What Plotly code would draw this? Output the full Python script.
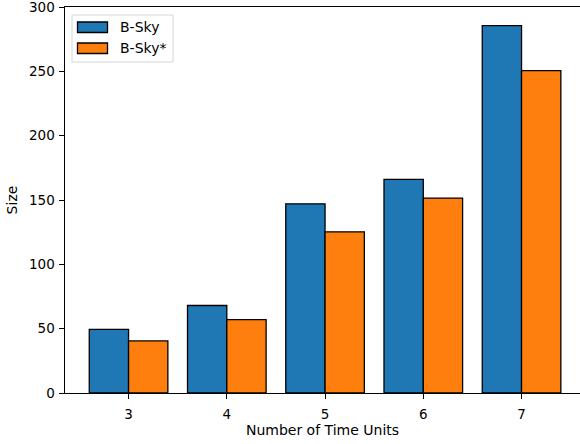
import plotly.graph_objects as go

categories = [3, 4, 5, 6, 7]
bsky = [49.5, 68.0, 147.0, 166.0, 285.6]
bsky_star = [40.5, 57.0, 125.3, 151.5, 250.6]
series_names = ["B-Sky", "B-Sky*"]
colors = ["#1f77b4", "#ff7f0e"]
y_ticks = [0, 50, 100, 150, 200, 250, 300]

W, H = 580, 444
L, R, T, B = 65, 0, 7, 51
pw, ph = W - L - R, H - T - B

font = dict(family="DejaVu Sans", size=14, color="black")
tick_font = dict(family="DejaVu Sans", size=13.5, color="black")

fig = go.Figure()
for name, vals, col in zip(series_names, [bsky, bsky_star], colors):
    fig.add_trace(go.Bar(
        x=categories, y=vals, name=name,
        marker=dict(color=col, line=dict(color="black", width=1.3)),
        showlegend=False,
    ))

def px2paper_x(px):
    return (px - L) / pw

def px2paper_y(py):
    return 1 - (py - T) / ph

shapes = []
annotations = []
# legend frame
shapes.append(dict(type="rect", xref="paper", yref="paper",
                   x0=px2paper_x(72), x1=px2paper_x(173),
                   y0=px2paper_y(62), y1=px2paper_y(15),
                   line=dict(color="#d6d6d6", width=1), fillcolor="rgba(255,255,255,0.8)",
                   layer="above"))
for i, (name, col) in enumerate(zip(series_names, colors)):
    cy = 27 + i * 21
    shapes.append(dict(type="rect", xref="paper", yref="paper",
                       x0=px2paper_x(77.5), x1=px2paper_x(107.5),
                       y0=px2paper_y(cy + 5.5), y1=px2paper_y(cy - 5),
                       line=dict(color="black", width=1.3), fillcolor=col, layer="above"))
    annotations.append(dict(xref="paper", yref="paper",
                            x=px2paper_x(118), y=px2paper_y(cy),
                            text=name, showarrow=False, xanchor="left", yanchor="middle",
                            font=font))

fig.update_layout(
    width=W, height=H,
    margin=dict(l=L, r=R, t=T, b=B, pad=0),
    paper_bgcolor="white", plot_bgcolor="white",
    font=font,
    barmode="group", bargap=0.2, bargroupgap=0,
    shapes=shapes, annotations=annotations,
    xaxis=dict(range=[2.353, 7.595], tickvals=categories, ticktext=[str(c) for c in categories],
               automargin=False, tickfont=tick_font, ticklabelstandoff=4,
               showgrid=False, zeroline=False, showline=True, linecolor="black", linewidth=1.1,
               mirror=True, ticks="outside", ticklen=4.5, tickwidth=1.1, tickcolor="black",
               title=dict(text="Number of Time Units", font=font, standoff=4)),
    yaxis=dict(range=[0, 300], tickvals=y_ticks, automargin=False,
               tickfont=tick_font, ticklabelstandoff=2, ticklabeloverflow="allow",
               showgrid=False, zeroline=False, showline=True, linecolor="black", linewidth=1.1,
               mirror=False, ticks="outside", ticklen=4.5, tickwidth=1.1, tickcolor="black",
               title=dict(text="Size", font=font, standoff=8)),
)

fig.write_html("out.html", config={"displayModeBar": False},
               post_script="document.body.style.margin='0px';")
